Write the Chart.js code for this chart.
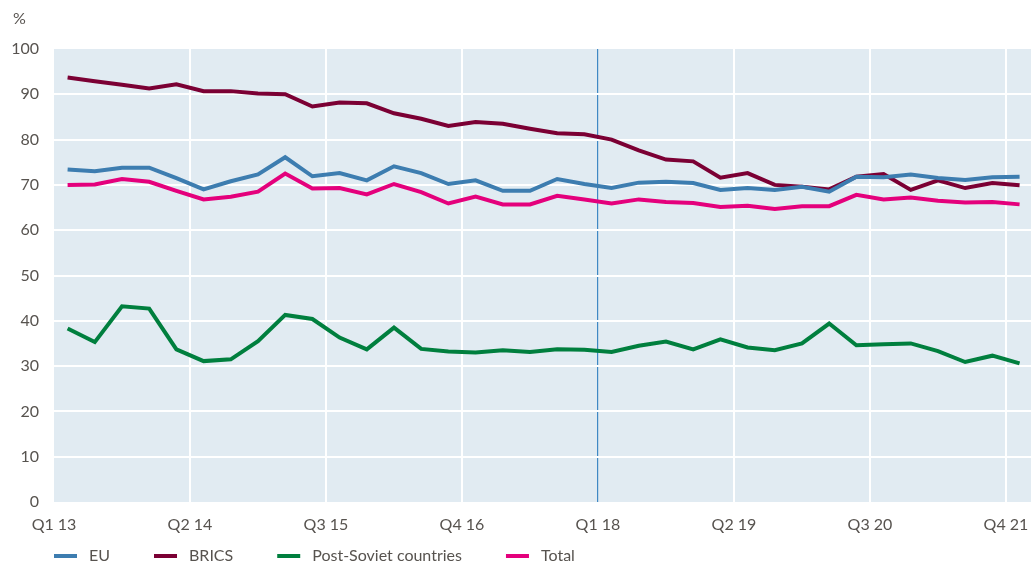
<!DOCTYPE html>
<html>
<head>
<meta charset="utf-8">
<title>Share by region</title>
<script src="https://cdn.jsdelivr.net/npm/chart.js@4.4.1/dist/chart.umd.min.js"></script>
<style>
    html, body { margin: 0; padding: 0; background: #fff; }
    canvas { display: block; }
</style>
</head>
<body>
<canvas id="chart" width="1031" height="564"></canvas>
<script>
// Quarters, Q1 2013 .. Q4 2021
const quarters = [
    'Q1 13', 'Q2 13', 'Q3 13', 'Q4 13', 'Q1 14', 'Q2 14', 'Q3 14', 'Q4 14',
    'Q1 15', 'Q2 15', 'Q3 15', 'Q4 15', 'Q1 16', 'Q2 16', 'Q3 16', 'Q4 16',
    'Q1 17', 'Q2 17', 'Q3 17', 'Q4 17', 'Q1 18', 'Q2 18', 'Q3 18', 'Q4 18',
    'Q1 19', 'Q2 19', 'Q3 19', 'Q4 19', 'Q1 20', 'Q2 20', 'Q3 20', 'Q4 20',
    'Q1 21', 'Q2 21', 'Q3 21', 'Q4 21'
];

const eu = [73.4, 73.0, 73.8, 73.8, 71.5, 69.0, 70.8, 72.3, 76.1, 71.9, 72.6, 71.0,
    74.1, 72.6, 70.2, 71.0, 68.7, 68.7, 71.3, 70.2, 69.3, 70.5, 70.7, 70.4,
    68.9, 69.3, 68.9, 69.6, 68.5, 71.8, 71.7, 72.3, 71.5, 71.1, 71.7, 71.8];

const brics = [93.7, 92.9, 92.1, 91.3, 92.2, 90.7, 90.7, 90.2, 90.0, 87.3, 88.2, 88.0,
    85.8, 84.6, 83.0, 83.9, 83.5, 82.4, 81.4, 81.2, 80.0, 77.6, 75.6, 75.2,
    71.6, 72.6, 70.0, 69.6, 69.0, 71.8, 72.4, 68.9, 71.0, 69.3, 70.4, 69.9];

const postSoviet = [38.3, 35.3, 43.2, 42.7, 33.7, 31.1, 31.5, 35.5, 41.3, 40.4, 36.3, 33.7,
    38.5, 33.8, 33.2, 33.0, 33.5, 33.1, 33.7, 33.6, 33.1, 34.5, 35.4, 33.7,
    35.9, 34.1, 33.5, 35.0, 39.4, 34.6, 34.8, 35.0, 33.3, 30.9, 32.3, 30.6];

const total = [70.0, 70.1, 71.3, 70.7, 68.7, 66.8, 67.4, 68.5, 72.5, 69.2, 69.3, 67.9,
    70.2, 68.4, 65.9, 67.4, 65.7, 65.7, 67.6, 66.8, 65.9, 66.8, 66.2, 66.0,
    65.1, 65.4, 64.7, 65.3, 65.3, 67.8, 66.8, 67.2, 66.5, 66.1, 66.2, 65.7];

const yTicks = [0, 10, 20, 30, 40, 50, 60, 70, 80, 90, 100];
const markerQuarter = 'Q1 18';

const FONT = 'Lato, "Open Sans", sans-serif';
const TEXT = '#57534f';

// points sit in the middle of each quarter
function series(values) {
    return values.map((v, i) => ({ x: i + 0.5, y: v }));
}

function line(label, values, color) {
    return {
        label: label,
        data: series(values),
        borderColor: color,
        backgroundColor: color,
        borderWidth: 4,
        pointRadius: 0,
        tension: 0,
        fill: false
    };
}

// plot background, "%" unit and a legend placed under the axis
const decor = {
    id: 'decor',
    beforeDraw(chart) {
        const a = chart.chartArea;
        const ctx = chart.ctx;
        ctx.save();
        ctx.fillStyle = '#e1ebf2';
        ctx.fillRect(a.left, a.top, a.right - a.left, a.bottom - a.top);
        ctx.restore();
    },
    afterDraw(chart) {
        const ctx = chart.ctx;
        ctx.save();
        ctx.font = '16px ' + FONT;
        ctx.fillStyle = TEXT;
        ctx.textBaseline = 'middle';
        ctx.textAlign = 'left';
        ctx.fillText('%', 13, 19);

        let x = chart.chartArea.left;
        const y = 556;
        chart.data.datasets.forEach(ds => {
            ctx.fillStyle = ds.borderColor;
            ctx.fillRect(x, y - 2, 23, 4);
            ctx.fillStyle = TEXT;
            ctx.fillText(ds.label, x + 35, y);
            x += 35 + ctx.measureText(ds.label).width + 44;
        });
        ctx.restore();
    }
};

const markerIndex = quarters.indexOf(markerQuarter);

new Chart(document.getElementById('chart'), {
    type: 'line',
    data: {
        datasets: [
            line('EU', eu, '#3d7db0'),
            line('BRICS', brics, '#7b0034'),
            line('Post-Soviet countries', postSoviet, '#007f3e'),
            line('Total', total, '#e4007c')
        ]
    },
    options: {
        responsive: false,
        animation: false,
        layout: { padding: { top: 49, left: 0, right: 0, bottom: 0 } },
        plugins: {
            legend: { display: false },
            tooltip: { enabled: false }
        },
        scales: {
            x: {
                type: 'linear',
                min: 0,
                max: 35.92,
                border: { display: false },
                grid: {
                    drawTicks: false,
                    color: ctx => {
                        if (ctx.tick.value === markerIndex) return '#3f88c4';
                        if (ctx.tick.value === 0) return 'rgba(0,0,0,0)';
                        return '#ffffff';
                    },
                    lineWidth: ctx => ctx.tick.value === markerIndex ? 1.2 : 2
                },
                ticks: {
                    stepSize: 5,
                    includeBounds: false,
                    autoSkip: false,
                    maxRotation: 0,
                    padding: 13,
                    color: TEXT,
                    font: { family: FONT, size: 16 },
                    callback: value => quarters[value]
                },
                afterFit: scale => {
                    scale.height = 62;
                    scale.paddingLeft = 0;
                    scale.paddingRight = 0;
                }
            },
            y: {
                min: 0,
                max: 100,
                border: { display: false },
                afterBuildTicks: scale => { scale.ticks = yTicks.map(v => ({ value: v })); },
                grid: {
                    drawTicks: false,
                    lineWidth: 2,
                    color: ctx => (ctx.tick.value === 0 || ctx.tick.value === 100) ? 'rgba(0,0,0,0)' : '#ffffff'
                },
                ticks: {
                    padding: 15,
                    color: TEXT,
                    font: { family: FONT, size: 16 }
                },
                afterFit: scale => { scale.width = 54; }
            }
        }
    },
    plugins: [decor]
});
</script>
</body>
</html>
